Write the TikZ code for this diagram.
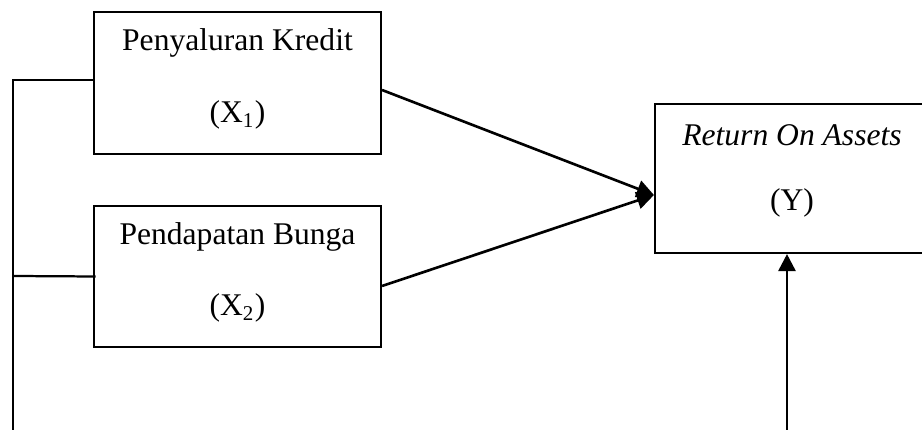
\documentclass[tikz,border=0pt]{standalone}
\usepackage{fontspec}
\setmainfont{Liberation Serif}
\usetikzlibrary{arrows.meta}
\begin{document}
\begin{tikzpicture}[x=0.38pt,y=-0.38pt,
  box/.style={draw,line width=0.8pt,inner sep=0pt},
  lbl/.style={inner sep=0pt,font=\fontsize{12}{14}\selectfont},
  conn/.style={line width=0.85pt},
  arr/.style={line width=1pt,-{Triangle[length=6.5pt,width=6.5pt]}}]
\useasboundingbox (0,0) rectangle (922,430);
\clip (0,0) rectangle (922,430);
% boxes
\node[box,minimum width=109.06pt,minimum height=53.96pt] (b1) at (237.5,83) {};
\node[lbl] (t1) at (237.5,43) {Penyaluran Kredit};
\node[lbl] (s1) at (237.5,115) {(X\textsubscript{1})};
\node[box,minimum width=109.06pt,minimum height=53.58pt] (b2) at (237.5,276.5) {};
\node[lbl] (t2) at (237.5,237) {Pendapatan Bunga};
\node[lbl] (s2) at (237.5,308) {(X\textsubscript{2})};
\node[box,minimum width=104.12pt,minimum height=56.62pt] (by) at (792,178.5) {};
\node[lbl] (ty) at (792,135) {\itshape Return On Assets};
\node[lbl] (sy) at (792,203) {(Y)};
% helper coordinates
\coordinate (c1) at (13,80);
\coordinate (c2) at (13,276);
\coordinate (cb) at (13,440);
\coordinate (cy) at (787,440);
\coordinate (a1) at (381,90);
\coordinate (a2) at (381,286);
\coordinate (at) at (655,195);
% connectors
\draw[conn] (b1.west |- c1) -- (c1) -- (cb);
\draw[conn] ([xshift=1pt]b2.west) -- (c2);
\draw[arr] (b1.east |- a1) -- (by.west |- at);
\draw[arr] (b2.east |- a2) -- (by.west |- at);
\draw[arr] (cy) -- (cy |- by.south);
\end{tikzpicture}
\end{document}
